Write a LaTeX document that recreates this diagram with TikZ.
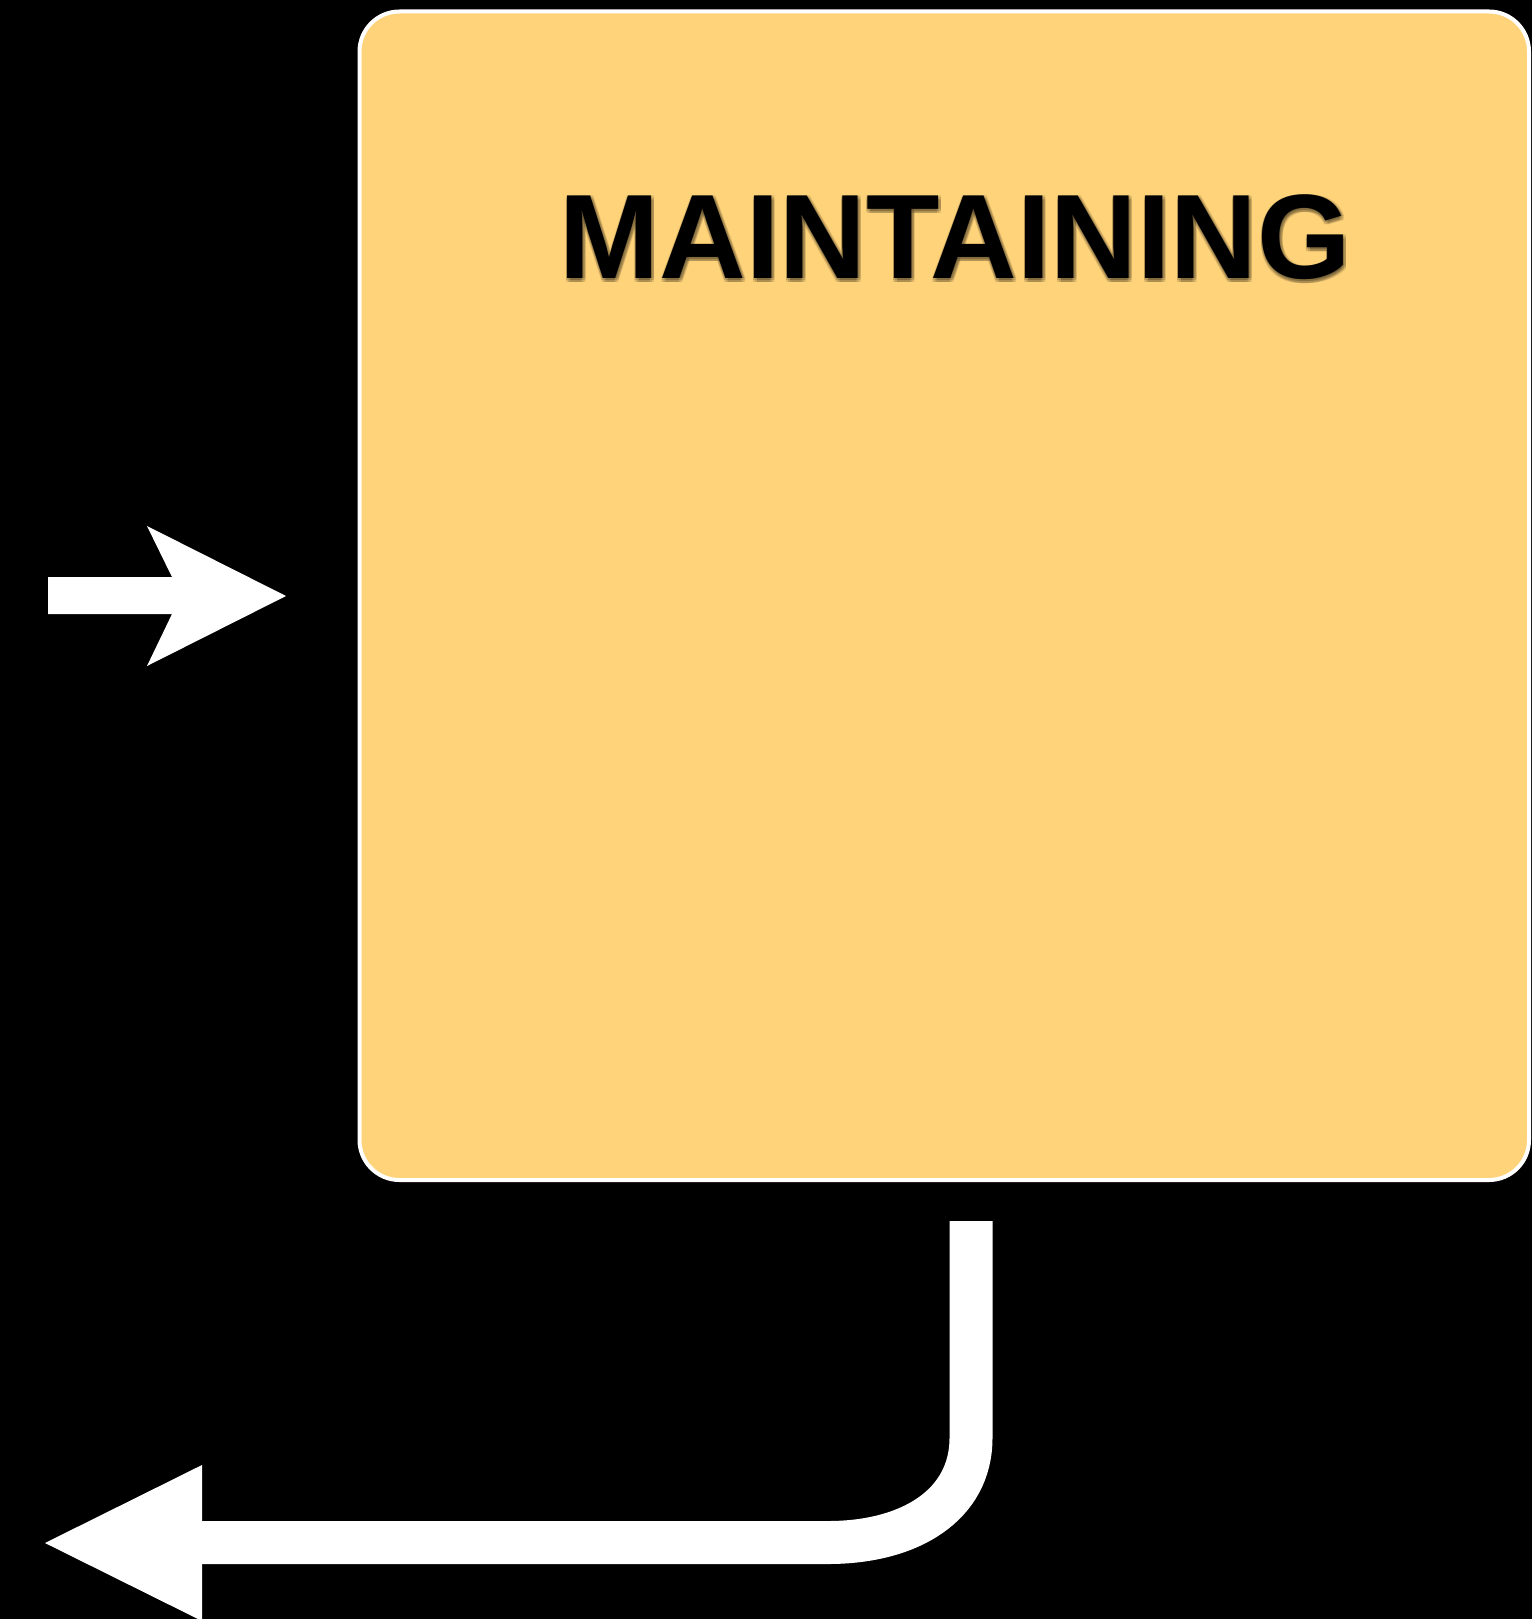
\documentclass[tikz,border=0pt]{standalone}
\usepackage{fontspec}
\setmainfont{Liberation Sans}
\definecolor{boxfill}{HTML}{FFD37A}
\begin{document}
\begin{tikzpicture}[x=1pt,y=-1pt,
  panel/.style={draw=white,line width=4pt,fill=boxfill,rounded corners=40pt,
    rectangle,inner sep=0pt,outer sep=0pt,minimum width=1169.5pt,minimum height=1168.5pt},
  titletext/.style={anchor=base,inner sep=0pt,font=\fontsize{120}{144}\selectfont\bfseries},
  blockarrow/.style={fill=white,draw=none},
  bendline/.style={draw=white,line width=43pt,line cap=butt,line join=round}]
\fill[black] (0,0) rectangle (1532,1619);
\useasboundingbox (0,0) rectangle (1532,1619);
\node[panel] (box) at (944.25,595.75) {};
% soft shadow of the title
\foreach \dx/\dy in {3/2,-1/2,1/4,1/0,3/4,-1/0,-1/4,3/0}{
  \node[titletext,text=black,opacity=0.12] at (955+\dx,278+\dy) {MAINTAINING};
}
\node[titletext,text=black] (title) at (955,278) {MAINTAINING};
% right-pointing block arrow into the box
\coordinate (inTip) at (286,596);
\fill[blockarrow] (48,577) -- (172,577) -- (147,526) -- (inTip) -- (147,666) -- (172,614) -- (48,614) -- cycle;
% bent return arrow from below the box
\coordinate (outStart) at (971,1221);
\coordinate (bendTop) at (971,1438);
\coordinate (bendEnd) at (828,1542.5);
\coordinate (headBack) at (202,1542.5);
\coordinate (outTip) at (45,1543);
\draw[bendline] (outStart) -- (bendTop) .. controls (971,1505) and (910,1542.5) .. (bendEnd) -- (headBack);
\fill[blockarrow] (202,1465) -- (outTip) -- (202,1621) -- cycle;
\end{tikzpicture}
\end{document}
